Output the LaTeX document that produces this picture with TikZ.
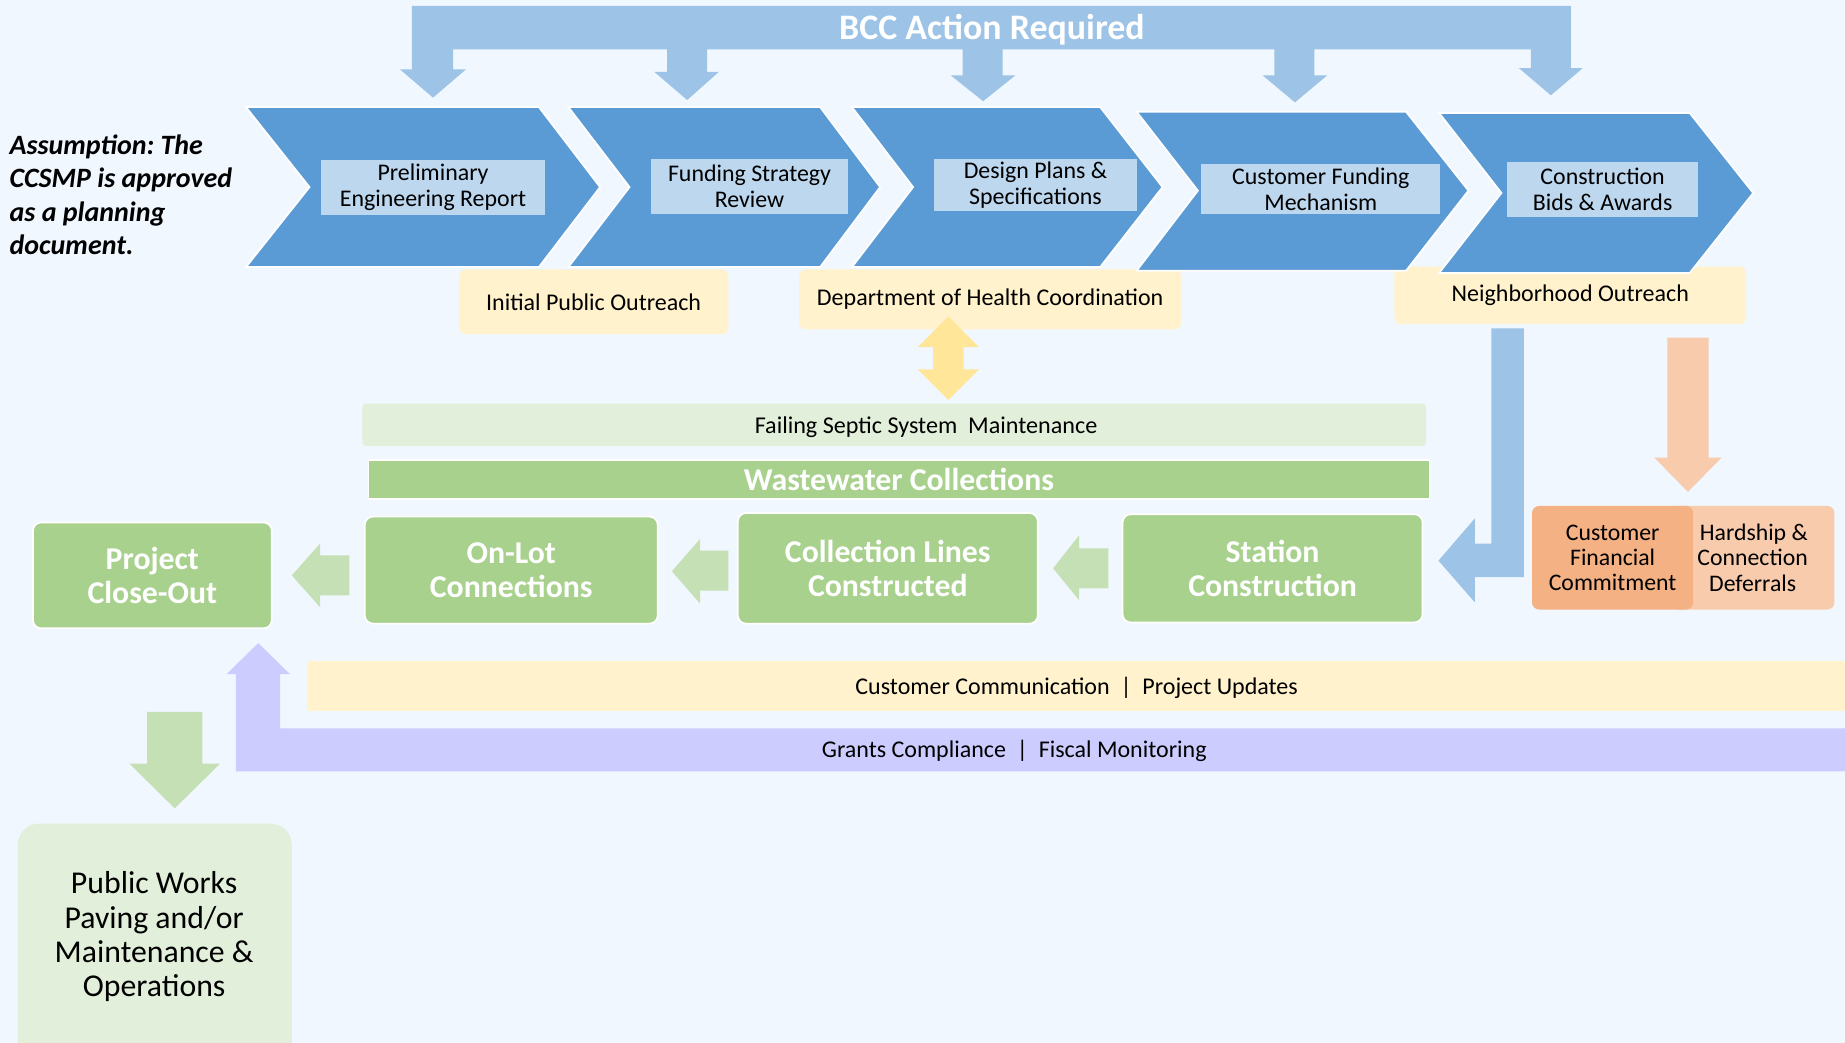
\documentclass[tikz,border=0pt]{standalone}
\usepackage{fontspec}
\setmainfont{Carlito}
\frenchspacing
\definecolor{bg}{HTML}{F0F7FF}
\definecolor{bccblue}{HTML}{9DC3E6}
\definecolor{chev}{HTML}{5B9BD5}
\definecolor{lbl}{HTML}{BDD7EE}
\definecolor{ylw}{HTML}{FFF2CC}
\definecolor{ylwarrow}{HTML}{FFE699}
\definecolor{lgreen}{HTML}{E2EFDA}
\definecolor{mgreen}{HTML}{A9D18E}
\definecolor{agreen}{HTML}{C5E0B4}
\definecolor{orgD}{HTML}{F4B183}
\definecolor{orgL}{HTML}{F8CBAD}
\definecolor{purp}{HTML}{CCCCFF}
\tikzset{
  chevshape/.style={fill=chev, draw=white, line width=1.5pt},
  chevlabel/.style={fill=lbl, inner sep=0pt, align=center, font=\fontsize{20.3}{22}\selectfont},
  ybox/.style={fill=ylw, rounded corners=6pt, inner sep=0pt, align=center, font=\fontsize{20.4}{22}\selectfont},
  gbox/.style={fill=mgreen, draw=white, line width=1.5pt, rounded corners=7pt, inner sep=0pt, align=center, text=white, font=\bfseries\fontsize{27}{28.5}\selectfont},
  obox/.style={rounded corners=6pt, inner sep=0pt, align=center, font=\fontsize{20.2}{21.5}\selectfont},
  barlabel/.style={inner sep=0pt, font=\fontsize{20.4}{22}\selectfont},
}
\begin{document}
\begin{tikzpicture}[x=1pt,y=-1pt]
\useasboundingbox (0,0) rectangle (1568,886);
\clip (0,0) rectangle (1568,886);
\fill[bg] (0,0) rectangle (1568,886);

% BCC bar with five down arrows
\fill[bccblue] (350,5) -- (1335,5) -- (1335,58) -- (1345,58) -- (1318,81) -- (1291,58) -- (1301,58) -- (1301,42)
  -- (1117,42) -- (1117,64) -- (1128,64) -- (1100.5,87) -- (1073,64) -- (1083,64) -- (1083,42)
  -- (852,42) -- (852,64) -- (863,64) -- (835.5,86) -- (808,64) -- (818,64) -- (818,42)
  -- (601,42) -- (601,61) -- (611,61) -- (584,85) -- (556,61) -- (567,61) -- (567,42)
  -- (385,42) -- (385,59) -- (396,59) -- (368,83) -- (340,59) -- (350,59) -- cycle;
\node[inner sep=0pt, text=white, font=\bfseries\fontsize{30.5}{32}\selectfont] (bcc) at (843,25) {BCC Action Required};

% yellow outreach boxes
\node[ybox, minimum width=229pt, minimum height=55pt] (ipo) at (504.5,256.5) {Initial Public Outreach};
\node[ybox, minimum width=325pt, minimum height=51pt] (doh) at (841.5,254.5) {Department of Health Coordination};
\node[ybox, minimum width=299pt, minimum height=49pt] (nbo) at (1334.5,251) {Neighborhood Outreach};

% chevrons
\draw[chevshape] (209,91) -- (458,91) -- (510,159) -- (458,227) -- (209,227) -- (263,159) -- cycle;
\draw[chevshape] (483,91) -- (697,91) -- (748,159) -- (697,227) -- (483,227) -- (535,159) -- cycle;
\draw[chevshape] (724,91) -- (935,91) -- (988,159) -- (935,227) -- (724,227) -- (776,159) -- cycle;
\draw[chevshape] (966,95) -- (1195,95) -- (1248,162) -- (1195,230) -- (966,230) -- (1018,162) -- cycle;
\draw[chevshape] (1223,96) -- (1436,96) -- (1490,164) -- (1436,232) -- (1223,232) -- (1276,164) -- cycle;

\node[chevlabel, minimum width=190pt, minimum height=47pt] (per) at (368,159.5) {Preliminary\\Engineering Report};
\node[chevlabel, minimum width=168pt, minimum height=47pt] (fsr) at (637,158.5) {Funding Strategy\\Review};
\node[chevlabel, minimum width=172pt, minimum height=44pt] (dps) at (880,157) {Design Plans \&\\Specifications};
\node[chevlabel, minimum width=203pt, minimum height=43pt] (cfm) at (1122.5,160.5) {Customer Funding\\Mechanism};
\node[chevlabel, minimum width=162pt, minimum height=47pt] (cba) at (1362,161) {Construction\\Bids \& Awards};

% assumption text
\node[anchor=north west, inner sep=0pt, align=left, font=\bfseries\itshape\fontsize{23.8}{28.5}\selectfont] (assume) at (8,114) {Assumption: The\\CCSMP is approved\\as a planning\\document.};

% yellow double arrow
\fill[ylwarrow] (806,269) -- (832,295) -- (819,295) -- (819,314) -- (832,314) -- (806,340) -- (780,314) -- (793,314) -- (793,295) -- (780,295) -- cycle;

% green bars
\node[fill=lgreen, rounded corners=3pt, minimum width=904pt, minimum height=36pt, inner sep=0pt] (septic) at (760,361) {};
\node[inner sep=0pt, font=\fontsize{20.5}{22}\selectfont] (septictext) at (787,363) {Failing Septic System\ \ Maintenance};
\node[fill=mgreen, draw=white, line width=1.2pt, minimum width=902pt, minimum height=33pt, inner sep=0pt, text=white, font=\bfseries\fontsize{27}{28}\selectfont] (wwc) at (764,407.5) {Wastewater Collections};

% green step boxes
\node[gbox, minimum width=203pt, minimum height=90pt] (pco) at (129.5,489) {Project\\Close-Out};
\node[gbox, minimum width=249pt, minimum height=91pt] (olc) at (434.5,484.5) {On-Lot\\Connections};
\node[gbox, minimum width=255pt, minimum height=94pt] (clc) at (754.5,483) {Collection Lines\\Constructed};
\node[gbox, minimum width=255pt, minimum height=92pt] (stc) at (1081.5,483) {Station\\Construction};

% light green left arrows
\fill[agreen] (248,489) -- (272,462) -- (272,472) -- (297,472) -- (297,506) -- (272,506) -- (272,516) -- cycle;
\fill[agreen] (571,485.5) -- (595,458) -- (595,468) -- (619,468) -- (619,502) -- (595,502) -- (595,513) -- cycle;
\fill[agreen] (895,483) -- (917,455) -- (917,466) -- (942,466) -- (942,500) -- (917,500) -- (917,510) -- cycle;

% blue L arrow from neighborhood outreach to station construction
\fill[bccblue] (1267.5,279) -- (1267.5,462) -- (1253.5,462) -- (1253.5,440.5) -- (1222.5,476.5) -- (1253.5,512) -- (1253.5,490.5) -- (1295,490.5) -- (1295,279) -- cycle;

% orange arrow and boxes
\fill[orgL] (1417,287) -- (1417,389) -- (1406,389) -- (1434.5,418) -- (1463,389) -- (1452,389) -- (1452,287) -- cycle;
\node[obox, fill=orgL, minimum width=139pt, minimum height=88pt] (hcd) at (1489.5,474) {\hspace*{2pt}Hardship \&\\Connection\\Deferrals};
\node[obox, fill=orgD, minimum width=137pt, minimum height=88pt] (cfc) at (1370.5,474) {Customer\\Financial\\Commitment};

% customer communication bar
\fill[ylw] (261,562) rectangle (1568,604);
\node[barlabel] (ccpu) at (915,585) {Customer Communication\ \ |\ \ Project Updates};

% grants compliance L arrow
\fill[purp] (1568,619) -- (238,619) -- (238,573) -- (246.5,573) -- (219.5,546.5) -- (192.5,573) -- (200.5,573) -- (200.5,655.5) -- (1568,655.5) -- cycle;
\node[barlabel] (gcfm) at (862,638.5) {Grants Compliance\ \ |\ \ Fiscal Monitoring};

% green down arrow to public works
\fill[agreen] (125,605) -- (172,605) -- (172,649) -- (187,649) -- (148.5,687) -- (110,649) -- (125,649) -- cycle;
\fill[lgreen, rounded corners=18pt] (15,700) rectangle (248,920);
\node[inner sep=0pt, align=center, font=\fontsize{27}{29}\selectfont] (pw) at (131,796) {Public Works\\Paving and/or\\Maintenance \&\\Operations};
\end{tikzpicture}
\end{document}
